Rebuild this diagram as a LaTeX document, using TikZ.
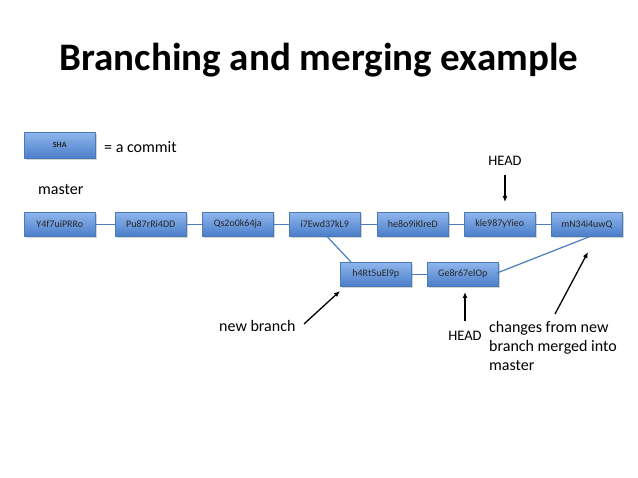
\documentclass[tikz,border=0pt]{standalone}
\usepackage{fontspec}
\setmainfont{Carlito}
\usetikzlibrary{shadows,arrows.meta}
\definecolor{boxtop}{HTML}{90B6EC}
\definecolor{boxbot}{HTML}{4A7EC9}
\definecolor{boxline}{HTML}{4A7AB8}
\definecolor{linkc}{HTML}{4A7EC0}
\tikzset{
  x=1pt,y=-1pt,
  commit/.style={draw=boxline,line width=0.6pt,top color=boxtop,bottom color=boxbot,
    minimum width=71pt,minimum height=24pt,inner sep=0pt,anchor=north west,
    font=\fontsize{10}{11}\selectfont,text=black!85,
    drop shadow={shadow xshift=1.2pt,shadow yshift=-1.5pt,opacity=0.35}},
  link/.style={draw=linkc,line width=1.2pt},
  lbl/.style={font=\fontsize{16}{19}\selectfont,inner sep=0pt},
  headlbl/.style={font=\fontsize{14.5}{17}\selectfont,inner sep=0pt},
  ptr/.style={-{Latex[length=6pt,width=5pt]},line width=1.3pt},
}
\begin{document}
\begin{tikzpicture}
\useasboundingbox (0,0) rectangle (638,478);
\node[font=\fontsize{39}{44}\bfseries\selectfont,inner sep=0pt] (title) at (319,60) {Branching and merging example};
\node[commit,minimum height=26pt,font=\fontsize{8}{9}\bfseries\selectfont] (sha) at (24,132) {SHA};
\node[lbl,anchor=west] (eq) at (104,147) {= a commit};
\node[lbl,anchor=west] (master) at (38,190) {master};

\node[commit] (c1) at (24,212) {Y4f7uiPRRo};
\node[commit] (c2) at (115,212) {Pu87rRi4DD};
\node[commit] (c3) at (202,212) {Qs2o0k64ja};
\node[commit] (c4) at (289,212) {i7Ewd37kL9};
\node[commit] (c5) at (377,212) {he8o9iKlreD};
\node[commit] (c6) at (464,212) {kle987yYieo};
\node[commit] (c7) at (551,212) {mN34i4uwQ};
\node[commit] (b1) at (340,262) {h4Rt5uEl9p};
\node[commit] (b2) at (427,262) {Ge8r67elOp};

\draw[link] (c1) -- (c2);
\draw[link] (c2) -- (c3);
\draw[link] (c3) -- (c4);
\draw[link] (c4) -- (c5);
\draw[link] (c5) -- (c6);
\draw[link] (c6) -- (c7);
\draw[link] (b1) -- (b2);
\coordinate (s1) at (327,236.5);
\coordinate (e1) at (351,262);
\draw[link] (s1) -- (e1);
\coordinate (s2) at (497,273);
\coordinate (e2) at (590,236.5);
\draw[link] (s2) -- (e2);

\node[headlbl] (head1) at (505,161) {HEAD};
\coordinate (h1a) at (505,175);
\coordinate (h1b) at (505,202);
\draw[ptr] (h1a) -- (h1b);

\node[headlbl] (head2) at (465,336) {HEAD};
\coordinate (h2a) at (465,321);
\coordinate (h2b) at (465,292);
\draw[ptr] (h2a) -- (h2b);

\node[lbl,anchor=west] (nb) at (219,326) {new branch};
\coordinate (n1) at (304,324);
\coordinate (n2) at (340,291);
\draw[ptr] (n1) -- (n2);

\node[lbl,anchor=north west,align=left] (chg) at (489,321) {changes from new\\branch merged into\\master};
\coordinate (m1) at (555,314);
\coordinate (m2) at (588,252);
\draw[ptr] (m1) -- (m2);
\end{tikzpicture}
\end{document}
